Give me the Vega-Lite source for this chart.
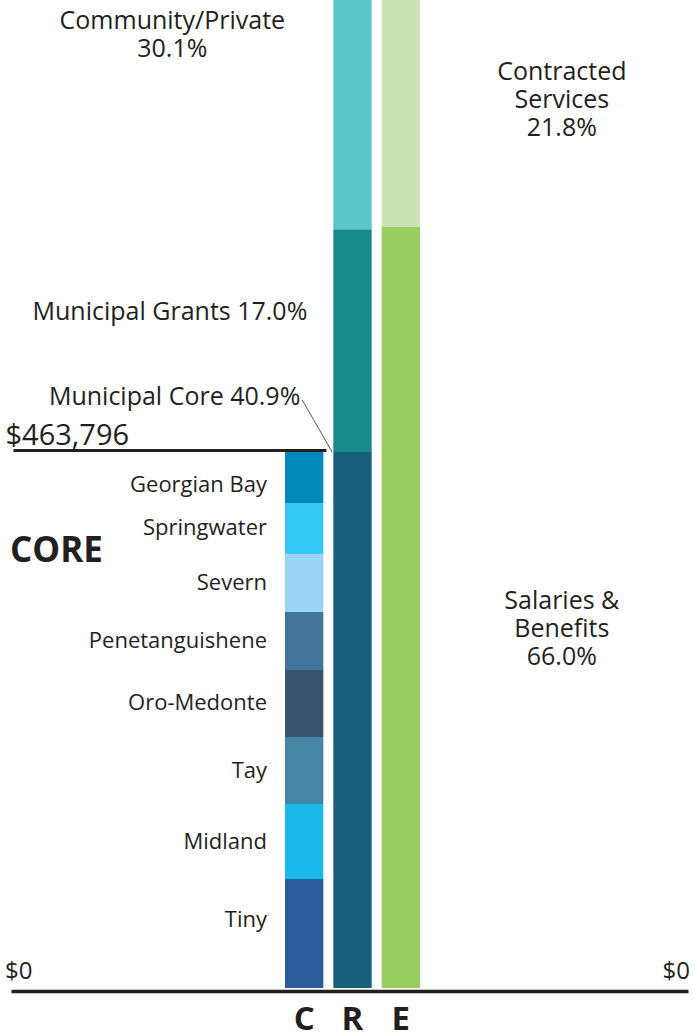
{
  "$schema": "https://vega.github.io/schema/vega-lite/v6.json",
  "width": 694,
  "height": 988,
  "padding": {"left": 0, "top": 0, "right": 0, "bottom": 46},
  "autosize": {"type": "none"},
  "background": "white",
  "config": {"view": {"stroke": null}, "font": "Open Sans", "text": {"font": "Open Sans", "color": "#231f20"}},
  "data": {"values": [
    {"col": "C", "category": "Tiny", "amount": 94300, "order": 1, "label": "Tiny"},
    {"col": "C", "category": "Midland", "amount": 64900, "order": 2, "label": "Midland"},
    {"col": "C", "category": "Tay", "amount": 58000, "order": 3, "label": "Tay"},
    {"col": "C", "category": "Oro-Medonte", "amount": 58000, "order": 4, "label": "Oro-Medonte"},
    {"col": "C", "category": "Penetanguishene", "amount": 50200, "order": 5, "label": "Penetanguishene"},
    {"col": "C", "category": "Severn", "amount": 50200, "order": 6, "label": "Severn"},
    {"col": "C", "category": "Springwater", "amount": 44100, "order": 7, "label": "Springwater"},
    {"col": "C", "category": "Georgian Bay", "amount": 44096, "order": 8, "label": "Georgian Bay"},
    {"col": "R", "category": "Municipal Core", "amount": 463796, "order": 1, "label": "Municipal Core 40.9%"},
    {"col": "R", "category": "Municipal Grants", "amount": 192776, "order": 2, "label": "Municipal Grants 17.0%"},
    {"col": "R", "category": "Community/Private", "amount": 341327, "order": 3, "label": "Community/Private\n30.1%"},
    {"col": "E", "category": "Salaries & Benefits", "amount": 658500, "order": 1, "label": "Salaries &\nBenefits\n66.0%"},
    {"col": "E", "category": "Contracted Services", "amount": 217500, "order": 2, "label": "Contracted\nServices\n21.8%"}
  ]},
  "transform": [
    {"stack": "amount", "groupby": ["col"], "sort": [{"field": "order", "order": "ascending"}], "as": ["y0", "y1"]},
    {"calculate": "(datum.y0 + datum.y1) / 2", "as": "ymid"}
  ],
  "resolve": {"axis": {"y": "independent"}},
  "layer": [
    {
      "mark": {"type": "bar", "clip": true},
      "encoding": {
        "x": {"field": "col", "type": "nominal",
          "scale": {"domain": ["C", "R", "E"], "range": [285, 420], "paddingInner": 0.207, "paddingOuter": 0},
          "axis": {"orient": "bottom", "title": null, "ticks": false, "tickSize": 0, "offset": 0, "domain": false, "labelFontSize": 33, "labelFontWeight": "bold", "labelColor": "#231f20", "labelAngle": 0, "labelBaseline": "alphabetic", "labelPadding": 41, "labelFont": "Open Sans"}},
        "y": {"field": "y1", "type": "quantitative",
          "scale": {"domain": [0, 854916], "nice": false, "zero": true},
          "axis": {"orient": "left", "values": [463796], "format": "$,.0f", "offset": -326, "tickSize": 313, "tickWidth": 3, "tickOffset": -2, "tickColor": "#231f20", "domain": false, "grid": false, "labelAlign": "left", "labelPadding": 8, "labelBaseline": "alphabetic", "labelOffset": -6, "labelFontSize": 29, "labelColor": "#231f20", "labelFont": "Open Sans", "title": null}},
        "y2": {"field": "y0"},
        "color": {"field": "category", "type": "nominal", "legend": null,
          "scale": {
            "domain": ["Tiny", "Midland", "Tay", "Oro-Medonte", "Penetanguishene", "Severn", "Springwater", "Georgian Bay", "Municipal Core", "Municipal Grants", "Community/Private", "Salaries & Benefits", "Contracted Services"],
            "range": ["#2C5B99", "#1BB9E9", "#4685A3", "#3B546D", "#43739B", "#9AD5F3", "#35C8F4", "#0289BB", "#185F7A", "#168A8A", "#5BC6CA", "#99CD5F", "#CDE3B6"]}}
      }
    },
    {
      "transform": [{"filter": "datum.col == 'C' && datum.category != 'Tiny' && datum.category != 'Georgian Bay'"}],
      "mark": {"type": "text", "align": "right", "baseline": "middle", "dx": -18, "fontSize": 22},
      "encoding": {"x": {"field": "col", "type": "nominal", "bandPosition": 0}, "y": {"field": "ymid", "type": "quantitative", "axis": null}, "text": {"field": "label"}}
    },
    {
      "transform": [{"filter": "datum.category == 'Tiny'"}],
      "mark": {"type": "text", "align": "right", "baseline": "middle", "dx": -18, "dy": -14, "fontSize": 22},
      "encoding": {"x": {"field": "col", "type": "nominal", "bandPosition": 0}, "y": {"field": "ymid", "type": "quantitative", "axis": null}, "text": {"field": "label"}}
    },
    {
      "transform": [{"filter": "datum.category == 'Georgian Bay'"}],
      "mark": {"type": "text", "align": "right", "baseline": "middle", "dx": -18, "dy": 8, "fontSize": 22},
      "encoding": {"x": {"field": "col", "type": "nominal", "bandPosition": 0}, "y": {"field": "ymid", "type": "quantitative", "axis": null}, "text": {"field": "label"}}
    },
    {
      "transform": [{"filter": "datum.category == 'Municipal Core'"}],
      "mark": {"type": "text", "align": "right", "baseline": "middle", "dx": -33, "dy": -55, "fontSize": 25},
      "encoding": {"x": {"field": "col", "type": "nominal", "bandPosition": 0}, "y": {"field": "y1", "type": "quantitative", "axis": null}, "text": {"field": "label"}}
    },
    {
      "transform": [{"filter": "datum.category == 'Municipal Core'"}, {"calculate": "datum.y1 + 45000", "as": "lead"}],
      "mark": {"type": "rule", "stroke": "#555555", "strokeWidth": 1},
      "encoding": {"x": {"datum": "R", "type": "nominal", "bandPosition": -0.03}, "x2": {"datum": "C", "bandPosition": 0.45}, "y": {"field": "y1", "type": "quantitative", "axis": null}, "y2": {"field": "lead"}}
    },
    {
      "transform": [{"filter": "datum.category == 'Municipal Grants'"}],
      "mark": {"type": "text", "align": "right", "baseline": "middle", "dx": -26, "dy": -29, "fontSize": 25},
      "encoding": {"x": {"field": "col", "type": "nominal", "bandPosition": 0}, "y": {"field": "ymid", "type": "quantitative", "axis": null}, "text": {"field": "label"}}
    },
    {
      "transform": [{"filter": "datum.category == 'Community/Private'"}],
      "mark": {"type": "text", "align": "center", "baseline": "middle", "dx": -161, "dy": -11, "fontSize": 25, "lineBreak": "\n", "lineHeight": 28},
      "encoding": {"x": {"field": "col", "type": "nominal", "bandPosition": 0}, "y": {"field": "ymid", "type": "quantitative", "axis": null}, "text": {"field": "label"}}
    },
    {
      "transform": [{"filter": "datum.category == 'Salaries & Benefits'"}],
      "mark": {"type": "text", "align": "center", "baseline": "middle", "dx": 161, "dy": -6, "fontSize": 25, "lineBreak": "\n", "lineHeight": 28},
      "encoding": {"x": {"field": "col", "type": "nominal", "bandPosition": 0.5}, "y": {"field": "ymid", "type": "quantitative", "axis": null}, "text": {"field": "label"}}
    },
    {
      "transform": [{"filter": "datum.category == 'Contracted Services'"}],
      "mark": {"type": "text", "align": "center", "baseline": "middle", "dx": 161, "dy": -29, "fontSize": 25, "lineBreak": "\n", "lineHeight": 28},
      "encoding": {"x": {"field": "col", "type": "nominal", "bandPosition": 0.5}, "y": {"field": "ymid", "type": "quantitative", "axis": null}, "text": {"field": "label"}}
    },
    {
      "data": {"values": [{"amount": 0, "label": "$0"}]},
      "mark": {"type": "text", "align": "left", "baseline": "alphabetic", "dx": -280, "dy": -9, "fontSize": 24},
      "encoding": {"x": {"datum": "C", "type": "nominal", "bandPosition": 0}, "y": {"field": "amount", "type": "quantitative", "axis": null}, "text": {"field": "label"}}
    },
    {
      "data": {"values": [{"amount": 0, "label": "$0"}]},
      "mark": {"type": "text", "align": "right", "baseline": "alphabetic", "dx": 270, "dy": -9, "fontSize": 24},
      "encoding": {"x": {"datum": "E", "type": "nominal", "bandPosition": 1},
        "y": {"field": "amount", "type": "quantitative",
          "axis": {"orient": "right", "values": [0], "labels": false, "domain": false, "grid": false, "tickSize": 677, "tickWidth": 3.5, "tickColor": "#231f20", "tickOffset": 3, "offset": -683, "title": null}},
        "text": {"field": "label"}}
    },
    {
      "data": {"values": [{"amount": 463796, "label": "CORE"}]},
      "mark": {"type": "text", "align": "left", "baseline": "middle", "dx": -275, "dy": 99, "fontSize": 35, "fontWeight": "bold"},
      "encoding": {"x": {"datum": "C", "type": "nominal", "bandPosition": 0}, "y": {"field": "amount", "type": "quantitative", "axis": null}, "text": {"field": "label"}}
    }
  ]
}
